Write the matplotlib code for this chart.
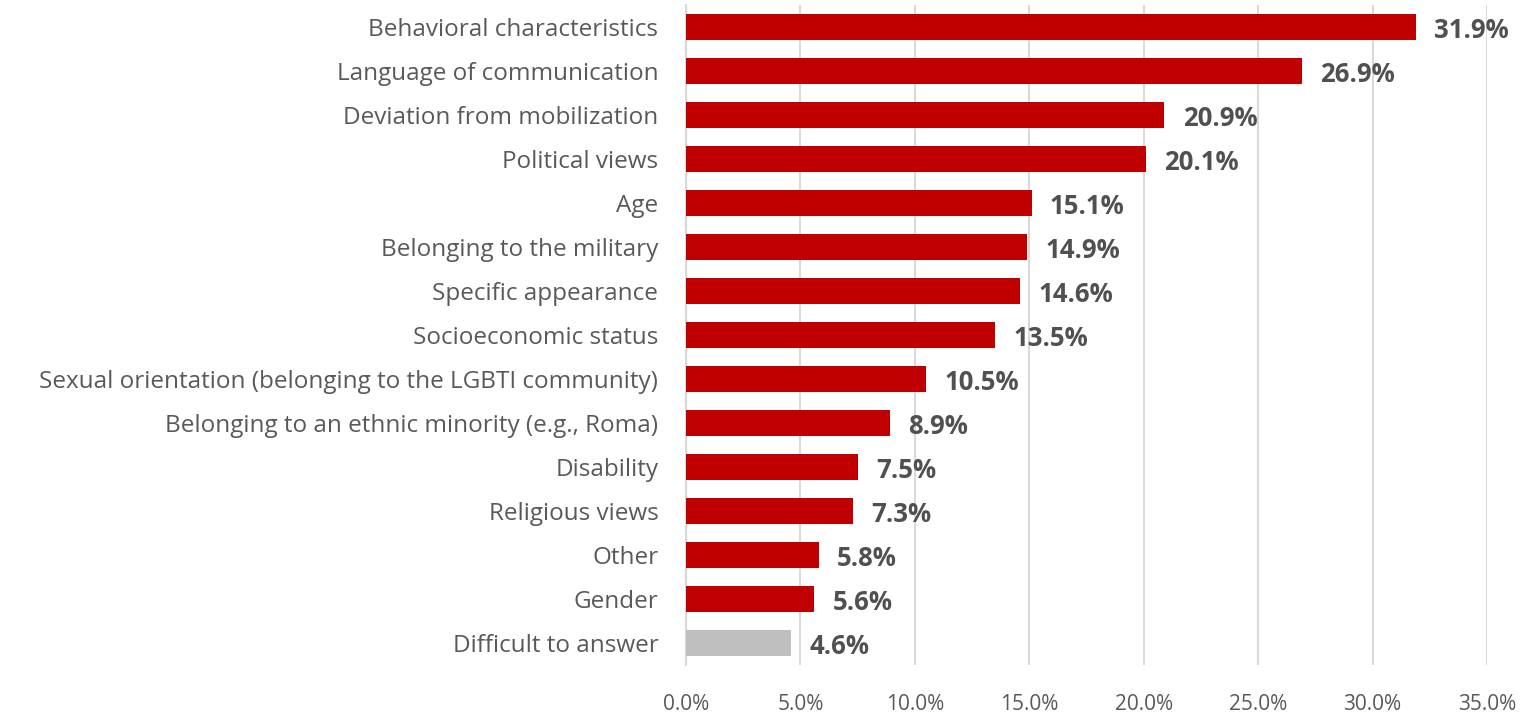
import matplotlib
matplotlib.use("Agg")
import matplotlib.pyplot as plt
from matplotlib.ticker import FuncFormatter

categories = [
    "Behavioral characteristics",
    "Language of communication",
    "Deviation from mobilization",
    "Political views",
    "Age",
    "Belonging to the military",
    "Specific appearance",
    "Socioeconomic status",
    "Sexual orientation (belonging to the LGBTI community)",
    "Belonging to an ethnic minority (e.g., Roma)",
    "Disability",
    "Religious views",
    "Other",
    "Gender",
    "Difficult to answer",
]
values = [31.9, 26.9, 20.9, 20.1, 15.1, 14.9, 14.6, 13.5, 10.5, 8.9, 7.5, 7.3, 5.8, 5.6, 4.6]
bar_colors = ["#c00000"] * 14 + ["#bfbfbf"]
xticks = [0, 5, 10, 15, 20, 25, 30, 35]

plt.rcParams["font.family"] = ["Open Sans", "DejaVu Sans"]

fig = plt.figure(figsize=(15.26, 7.14), dpi=100)
ax = fig.add_axes([0.4496, 0.0686, 0.5248, 0.9244])

y = list(range(len(categories)))
ax.barh(y, values, height=0.59, color=bar_colors, zorder=3)
for yi, v in zip(y, values):
    ax.text(v + 0.8, yi + 0.08, f"{v:.1f}%", va="center", ha="left",
            fontsize=18.5, fontweight="bold", color="#505050")

ax.set_ylim(len(categories) - 0.5, -0.5)
ax.set_xlim(0, 35)
ax.set_yticks(y)
ax.set_yticklabels(categories, fontsize=17.5, color="#595959")
ax.set_xticks(xticks)
ax.xaxis.set_major_formatter(FuncFormatter(lambda v, p: f"{v:.1f}%"))
ax.tick_params(axis="x", labelsize=15, colors="#595959", length=0, pad=21)
ax.tick_params(axis="y", length=0, pad=20)

ax.grid(axis="x", color="#d9d9d9", linewidth=1.5, zorder=0)
for s in ["top", "right", "bottom"]:
    ax.spines[s].set_visible(False)
ax.spines["left"].set_color("#d9d9d9")
ax.spines["left"].set_linewidth(1.5)

fig.savefig("out.png", dpi=100)
